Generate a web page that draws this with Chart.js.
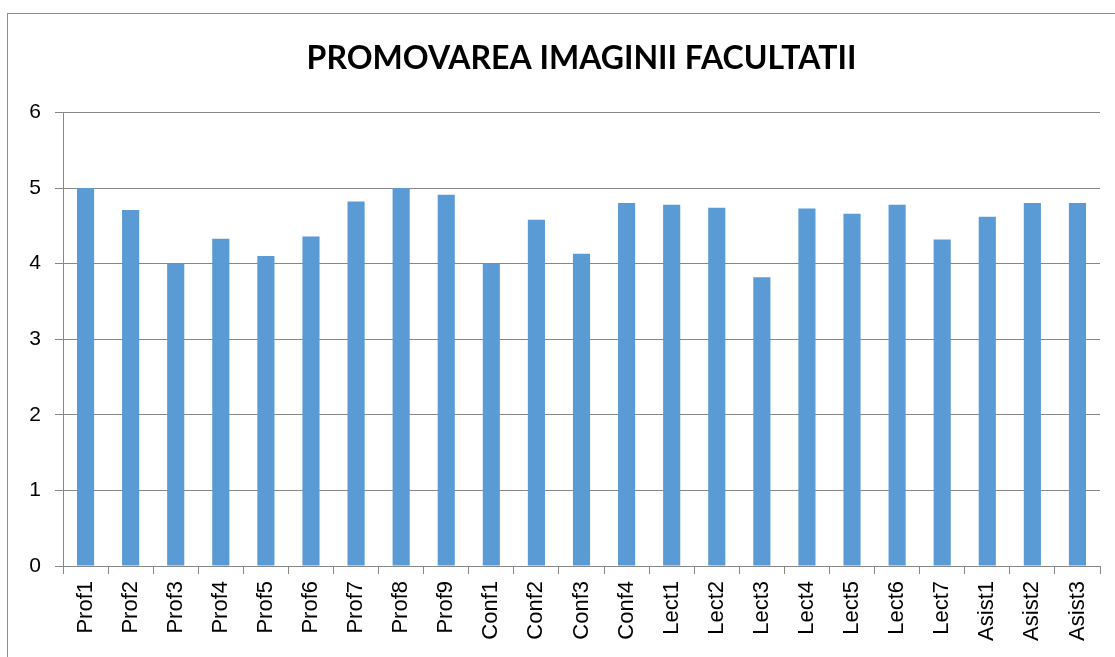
<!DOCTYPE html>
<html>
<head>
<meta charset="utf-8">
<script src="https://cdn.jsdelivr.net/npm/chart.js@4"></script>
<style>
  html, body { margin: 0; padding: 0; background: #fff; }
  #wrap { width: 1115px; height: 657px; }
</style>
</head>
<body>
<div id="wrap"><canvas id="bar-chart" width="1115" height="657"></canvas></div>
<script>
// categorii si valori
const labels = ['Prof1', 'Prof2', 'Prof3', 'Prof4', 'Prof5', 'Prof6', 'Prof7', 'Prof8', 'Prof9',
  'Conf1', 'Conf2', 'Conf3', 'Conf4',
  'Lect1', 'Lect2', 'Lect3', 'Lect4', 'Lect5', 'Lect6', 'Lect7',
  'Asist1', 'Asist2', 'Asist3'];
const scores = [5, 4.71, 4, 4.33, 4.1, 4.36, 4.82, 5, 4.91,
  4, 4.58, 4.13, 4.8,
  4.78, 4.74, 3.82, 4.73, 4.66, 4.78, 4.32,
  4.62, 4.8, 4.8];
const yTicks = [0, 1, 2, 3, 4, 5, 6];

const gridColor = '#878787';

// rama exterioara a graficului
const frame = {
  id: 'frame',
  beforeDraw(chart) {
    const c = chart.ctx;
    c.save();
    c.strokeStyle = '#8c8c8c';
    c.lineWidth = 1;
    c.strokeRect(7.5, 13.5, 2000, 2000);
    c.restore();
  }
};

const ctx = document.getElementById('bar-chart').getContext('2d');
new Chart(ctx, {
  type: 'bar',
  data: {
    labels: labels,
    datasets: [{
      data: scores,
      backgroundColor: '#5B9BD5',
      borderWidth: 0,
      barPercentage: 0.38,
      categoryPercentage: 1
    }]
  },
  plugins: [frame],
  options: {
    responsive: false,
    animation: false,
    layout: { padding: { left: 0, right: 15, top: 0, bottom: 0 } },
    plugins: {
      legend: { display: false },
      tooltip: { enabled: false },
      title: {
        display: true,
        fullSize: false,
        text: 'PROMOVAREA IMAGINII FACULTATII',
        color: '#000',
        font: { family: 'Lato', size: 32, weight: 'bold' },
        padding: { top: 39, bottom: 35 }
      }
    },
    scales: {
      x: {
        grid: { drawOnChartArea: false, drawTicks: true, tickLength: 8, color: gridColor },
        border: { color: gridColor },
        ticks: {
          color: '#000',
          font: { family: 'Liberation Sans', size: 22 },
          maxRotation: 90,
          minRotation: 90,
          padding: 7,
          autoSkip: false
        },
        afterFit(scale) { scale.height = 91; }
      },
      y: {
        min: 0,
        max: 6,
        afterBuildTicks(scale) { scale.ticks = yTicks.map(v => ({ value: v })); },
        grid: { color: gridColor, tickLength: 8 },
        border: { color: gridColor },
        ticks: {
          color: '#000',
          font: { family: 'Liberation Sans', size: 21 },
          padding: 14
        },
        afterFit(scale) { scale.width = 63; }
      }
    }
  }
});
</script>
</body>
</html>
